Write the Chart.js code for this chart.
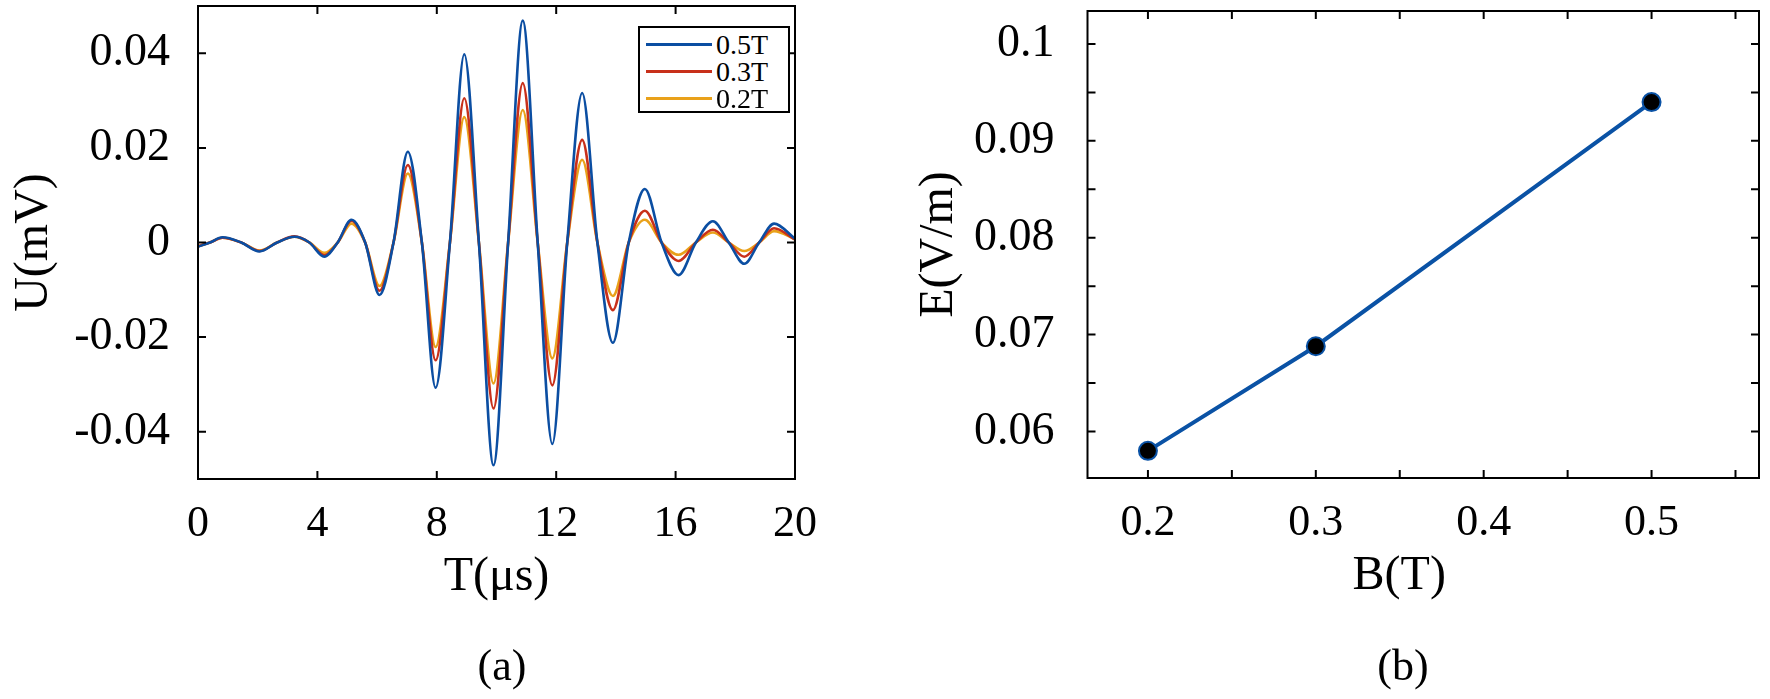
<!DOCTYPE html>
<html>
<head>
<meta charset="utf-8">
<script src="https://cdn.jsdelivr.net/npm/chart.js@4.4.1/dist/chart.umd.min.js"></script>
<style>
  html, body { margin: 0; padding: 0; background: #fff; }
  body { width: 1770px; height: 699px; position: relative; overflow: hidden; font-family: 'Liberation Serif', serif; }
  .panel { position: absolute; top: 0; height: 699px; }
  #wrapA { left: 0; width: 880px; }
  #wrapB { left: 880px; width: 890px; }
  .tag { position: absolute; font-size: 44px; color: #000; transform: translateX(-50%); }
  #legendA { position: absolute; left: 638px; top: 26px; width: 148px; height: 83px; border: 2px solid #000; background: #fff; }
  #legendA .row { position: absolute; left: 0; height: 27px; width: 100%; }
  #legendA .swatch { position: absolute; left: 6px; top: 12px; width: 66px; height: 3px; }
  #legendA .txt { position: absolute; left: 76px; top: 0; font-size: 28px; line-height: 27px; color: #000; }
</style>
</head>
<body>
<div class="panel" id="wrapA"><canvas id="chartA" width="880" height="699"></canvas></div>
<div class="panel" id="wrapB"><canvas id="chartB" width="890" height="699"></canvas></div>
<div id="legendA"></div>
<div class="tag" style="left:502px; top:640px;">(a)</div>
<div class="tag" style="left:1403px; top:640px;">(b)</div>
<script>
// (a) 时间轴 (μs)，取各极值点和过零点
const timeUs = [0, 0.4, 0.82, 1.45, 2.06, 2.65, 3.23, 3.73, 4.23, 4.68, 5.14, 5.6, 6.08, 6.55, 7.03, 7.5, 7.96, 8.44, 8.92, 9.41, 9.9, 10.39, 10.88, 11.38, 11.87, 12.37, 12.87, 13.38, 13.9, 14.43, 14.97, 15.53, 16.1, 16.68, 17.25, 17.78, 18.3, 18.8, 19.3, 20];

// 三种磁场下的电压 U (mV)
const u05T = [-0.0009, 0, 0.0011, 0, -0.0019, 0, 0.0012, 0, -0.0030, 0, 0.0048, 0, -0.0111, 0, 0.0192, 0, -0.0307, 0, 0.0398, 0, -0.0471, 0, 0.0469, 0, -0.0426, 0, 0.0316, 0, -0.0212, 0, 0.0113, 0, -0.0069, 0, 0.0045, 0, -0.0045, 0, 0.0040, 0.0008];
const u03T = [-0.0008, 0, 0.0010, 0, -0.0018, 0, 0.0013, 0, -0.0027, 0, 0.0046, 0, -0.0102, 0, 0.0164, 0, -0.0249, 0, 0.0305, 0, -0.0351, 0, 0.0337, 0, -0.0302, 0, 0.0217, 0, -0.0143, 0, 0.0067, 0, -0.0039, 0, 0.0027, 0, -0.0030, 0, 0.0030, 0.0006];
const u02T = [-0.0008, 0, 0.0010, 0, -0.0017, 0, 0.0012, 0, -0.0022, 0, 0.0040, 0, -0.0092, 0, 0.0146, 0, -0.0221, 0, 0.0265, 0, -0.0298, 0, 0.0280, 0, -0.0245, 0, 0.0175, 0, -0.0113, 0, 0.0048, 0, -0.0026, 0, 0.0021, 0, -0.0018, 0, 0.0024, 0.0007];

const seriesLabels = ['0.5T', '0.3T', '0.2T'];
const seriesColors = ['#0b4ea2', '#c8301a', '#e9a11a'];
const seriesValues = [u05T, u03T, u02T];

// (a) 坐标刻度
const tTicks = [0, 4, 8, 12, 16, 20];
const uTicks = [-0.04, -0.02, 0, 0.02, 0.04];
const uTickLabels = ['-0.04', '-0.02', '0', '0.02', '0.04'];

// (b) 磁场 B (T) 与电场 E (V/m)
const fieldB = [0.2, 0.3, 0.5];
const fieldE = [0.058, 0.0688, 0.094];

// (b) 坐标刻度（含次刻度，次刻度不标数字）
const bTicks = [0.2, 0.25, 0.3, 0.35, 0.4, 0.45, 0.5, 0.55];
const bTickLabels = ['0.2', '', '0.3', '', '0.4', '', '0.5', ''];
const eTicks = [0.06, 0.065, 0.07, 0.075, 0.08, 0.085, 0.09, 0.095, 0.1];
const eTickLabels = ['0.06', '', '0.07', '', '0.08', '', '0.09', '', '0.1'];

const FONT = 'Liberation Serif';

/**
 * 画边框和四边朝内的刻度
 */
const frameTicks = {
    id: 'frameTicks',
    afterDraw(chart) {
        const { ctx, chartArea: a, scales: { x, y } } = chart;
        const len = 8;
        ctx.save();
        ctx.strokeStyle = '#000';
        ctx.lineWidth = 2;
        ctx.beginPath();
        x.ticks.forEach(t => {
            const px = x.getPixelForValue(t.value);
            ctx.moveTo(px, a.bottom); ctx.lineTo(px, a.bottom - len);
            ctx.moveTo(px, a.top); ctx.lineTo(px, a.top + len);
        });
        y.ticks.forEach(t => {
            const py = y.getPixelForValue(t.value);
            ctx.moveTo(a.left, py); ctx.lineTo(a.left + len, py);
            ctx.moveTo(a.right, py); ctx.lineTo(a.right - len, py);
        });
        ctx.stroke();
        ctx.strokeRect(a.left, a.top, a.right - a.left, a.bottom - a.top);
        ctx.restore();
    }
};

function fixedWidth(w) {
    return scale => { scale.width = w; scale.paddingTop = 0; scale.paddingBottom = 0; };
}
function fixedHeight(h) {
    return scale => { scale.height = h; scale.paddingLeft = 0; scale.paddingRight = 0; };
}
function useTicks(values) {
    return scale => { scale.ticks = values.map(v => ({ value: v })); };
}

function axisTitle(text, padding) {
    return { display: true, text: text, color: '#000', font: { family: FONT, size: 48 }, padding: padding };
}
function tickFont(size) {
    return { family: FONT, size: size || 44 };
}

/**
 * 初始化 (a) 波形图
 */
function initWaveChart() {
    const ctx = document.getElementById('chartA').getContext('2d');
    new Chart(ctx, {
        type: 'line',
        data: {
            datasets: seriesLabels.map((label, i) => ({
                label: label,
                data: timeUs.map((t, k) => ({ x: t, y: seriesValues[i][k] })),
                borderColor: seriesColors[i],
                borderWidth: 2.6,
                pointRadius: 0,
                fill: false,
                cubicInterpolationMode: 'monotone'
            }))
        },
        options: {
            responsive: false,
            animation: false,
            layout: { padding: { left: 0, top: 6, right: 85, bottom: 80 } },
            plugins: { legend: { display: false }, tooltip: { enabled: false } },
            scales: {
                x: {
                    type: 'linear', min: 0, max: 20,
                    grid: { display: false }, border: { display: false },
                    ticks: { color: '#000', font: tickFont(), padding: 11, maxRotation: 0, autoSkip: false },
                    afterBuildTicks: useTicks(tTicks),
                    title: axisTitle('T(μs)', { top: 0, bottom: 13 }),
                    afterFit: fixedHeight(140)
                },
                y: {
                    type: 'linear', min: -0.05, max: 0.05,
                    grid: { display: false }, border: { display: false },
                    ticks: {
                        color: '#000', font: tickFont(46), padding: 20, autoSkip: false,
                        callback: (v, i) => uTickLabels[i]
                    },
                    afterBuildTicks: useTicks(uTicks),
                    title: axisTitle('U(mV)', { top: 6, bottom: 0 }),
                    afterFit: fixedWidth(198)
                }
            }
        },
        plugins: [frameTicks]
    });

    // 图例
    const box = document.getElementById('legendA');
    seriesLabels.forEach((label, i) => {
        const row = document.createElement('div');
        row.className = 'row';
        row.style.top = (3 + i * 27) + 'px';
        row.innerHTML = '<span class="swatch" style="background:' + seriesColors[i] + '"></span><span class="txt">' + label + '</span>';
        box.appendChild(row);
    });
}

/**
 * 初始化 (b) E-B 关系图
 */
function initFieldChart() {
    const ctx = document.getElementById('chartB').getContext('2d');
    new Chart(ctx, {
        type: 'line',
        data: {
            datasets: [{
                data: fieldB.map((b, i) => ({ x: b, y: fieldE[i] })),
                borderColor: '#0a52a5',
                borderWidth: 4,
                pointRadius: 9,
                pointBorderWidth: 2,
                pointBackgroundColor: '#000',
                pointBorderColor: '#0a52a5',
                fill: false,
                tension: 0
            }]
        },
        options: {
            responsive: false,
            animation: false,
            layout: { padding: { left: 0, top: 10, right: 5.5, bottom: 81 } },
            plugins: { legend: { display: false }, tooltip: { enabled: false } },
            scales: {
                x: {
                    type: 'linear', min: 0.164, max: 0.564,
                    grid: { display: false }, border: { display: false },
                    ticks: {
                        color: '#000', font: tickFont(), padding: 11, maxRotation: 0, autoSkip: false,
                        callback: (v, i) => bTickLabels[i]
                    },
                    afterBuildTicks: useTicks(bTicks),
                    // 标题略偏左，与原图一致
                    title: axisTitle('B(T)\u00a0\u00a0\u00a0\u00a0', { top: 0, bottom: 13 }),
                    afterFit: fixedHeight(140)
                },
                y: {
                    type: 'linear', min: 0.0552, max: 0.1034,
                    grid: { display: false }, border: { display: false },
                    ticks: {
                        color: '#000', font: tickFont(46), padding: 25, autoSkip: false,
                        callback: (v, i) => eTickLabels[i]
                    },
                    afterBuildTicks: useTicks(eTicks),
                    title: axisTitle('E(V/m)', { top: 31, bottom: 0 }),
                    afterFit: fixedWidth(207.5)
                }
            }
        },
        plugins: [frameTicks]
    });
}

initWaveChart();
initFieldChart();
</script>
</body>
</html>
